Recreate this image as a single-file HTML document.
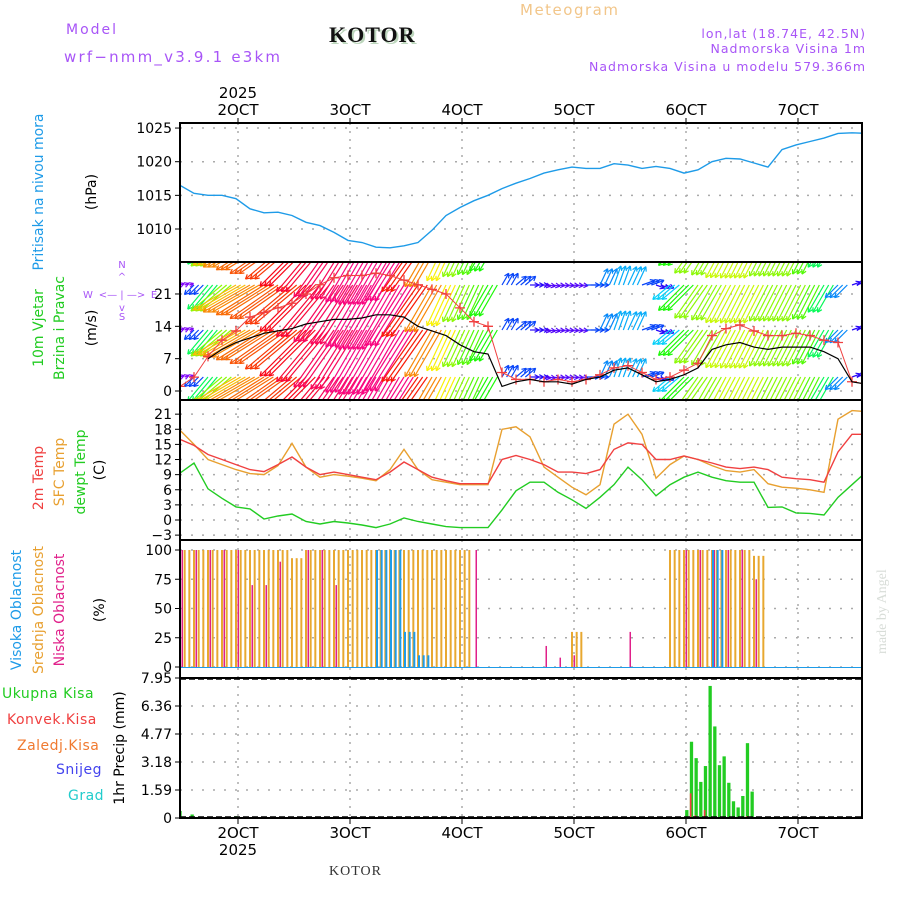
<!DOCTYPE html>
<html><head><meta charset="utf-8"><style>
html,body{margin:0;padding:0;background:#fff;}
svg{display:block;font-family:"DejaVu Sans","Liberation Sans",sans-serif;}
</style></head><body>
<svg id="chart" width="900" height="900" viewBox="0 0 900 900" xmlns="http://www.w3.org/2000/svg">
<g>
<text x="66" y="34" font-size="14" fill="#a855f7" letter-spacing="2">Model</text>
<text x="64" y="62" font-size="15" fill="#a855f7" letter-spacing="2.2">wrf−nmm_v3.9.1 e3km</text>
<text x="331" y="44" font-size="22" font-weight="bold" font-family="Liberation Serif,serif" fill="#bcd6bc" letter-spacing="1">KOTOR</text>
<text x="329" y="42" font-size="22" font-weight="bold" font-family="Liberation Serif,serif" fill="#111" letter-spacing="1">KOTOR</text>
<text x="520" y="15" font-size="15" fill="#f2c68a" letter-spacing="1.5">Meteogram</text>
<text x="866" y="38" font-size="12.5" fill="#a855f7" text-anchor="end" letter-spacing="1">lon,lat (18.74E, 42.5N)</text>
<text x="866" y="53" font-size="12.5" fill="#a855f7" text-anchor="end" letter-spacing="1">Nadmorska Visina 1m</text>
<text x="866" y="71" font-size="12.5" fill="#a855f7" text-anchor="end" letter-spacing="1">Nadmorska Visina u modelu 579.366m</text>
<text x="329" y="875" font-size="14" font-family="Liberation Serif,serif" fill="#333" letter-spacing="1">KOTOR</text>
<text transform="translate(886,654) rotate(-90)" font-size="14" font-family="Liberation Serif,serif" fill="#d8ddd8">made by Angel</text>
</g>
<g font-size="14">
<text transform="translate(43,192) rotate(-90)" text-anchor="middle" fill="#1e9be8">Pritisak na nivou mora</text>
<text transform="translate(96,192) rotate(-90)" text-anchor="middle" fill="#000">(hPa)</text>
<text transform="translate(43,328) rotate(-90)" text-anchor="middle" fill="#22cc22">10m Vjetar</text>
<text transform="translate(64,328) rotate(-90)" text-anchor="middle" fill="#22cc22">Brzina i Pravac</text>
<text transform="translate(96,328) rotate(-90)" text-anchor="middle" fill="#000">(m/s)</text>
<g fill="#a855f7" font-size="10" text-anchor="middle">
<text x="122" y="268">N</text><text x="122" y="280">^</text><text x="122" y="320">S</text><text x="122" y="311">v</text>
<text x="88" y="298">W</text><text x="122" y="298">&lt;— | —&gt;</text><text x="154" y="298">E</text>
</g>
<text transform="translate(43,478) rotate(-90)" text-anchor="middle" fill="#f04040">2m Temp</text>
<text transform="translate(64,472) rotate(-90)" text-anchor="middle" fill="#e8a030">SFC Temp</text>
<text transform="translate(85,472) rotate(-90)" text-anchor="middle" fill="#22cc22">dewpt Temp</text>
<text transform="translate(104,470) rotate(-90)" text-anchor="middle" fill="#000">(C)</text>
<text transform="translate(21,610) rotate(-90)" text-anchor="middle" fill="#1e9be8">Visoka Oblacnost</text>
<text transform="translate(43,610) rotate(-90)" text-anchor="middle" fill="#e8a030">Srednja Oblacnost</text>
<text transform="translate(64,610) rotate(-90)" text-anchor="middle" fill="#e0208a">Niska Oblacnost</text>
<text transform="translate(104,610) rotate(-90)" text-anchor="middle" fill="#000">(%)</text>
<text x="2" y="698" fill="#22cc22" letter-spacing="0.5">Ukupna Kisa</text>
<text x="7" y="724" fill="#f04040" letter-spacing="0.5">Konvek.Kisa</text>
<text x="17" y="750" fill="#f07a30" letter-spacing="0.5">Zaledj.Kisa</text>
<text x="56" y="774" fill="#4444ee" letter-spacing="0.5">Snijeg</text>
<text x="68" y="800" fill="#22cccc" letter-spacing="0.5">Grad</text>
<text transform="translate(124,748) rotate(-90)" text-anchor="middle" fill="#000">1hr Precip (mm)</text>
</g>
<g id="plot"></g>
</svg>
<script>
// ---- data (3-hourly, starting ~Oct 1 11:30) ----
const dayLabels = ["2OCT","3OCT","4OCT","5OCT","6OCT","7OCT"];
const pressure = [1016.5,1015.3,1015,1015,1014.5,1013,1012.4,1012.5,1012,1011,1010.5,1009.5,1008.3,1008,1007.3,1007.2,1007.5,1008,1009.8,1012,1013.2,1014.2,1015,1016,1016.8,1017.5,1018.3,1018.8,1019.2,1019,1019,1019.7,1019.5,1019,1019.3,1019,1018.3,1018.8,1020,1020.5,1020.4,1019.8,1019.2,1021.8,1022.5,1023,1023.5,1024.2,1024.3,1024.2];
const windSpeed = [null,null,7,9,10.5,11.5,12.5,13,13.5,14.5,15,15.5,15.5,15.8,16.5,16.5,16,14,13,12,10,8.5,8,1,2,2.5,2,2,1.5,2.5,3,4.5,5,3.5,2,2.5,3.5,5,9,10,10.5,9.5,9,9.5,9.5,9.5,8.5,7,2,1.5];
const windGust = [1,3,7.5,11,13,16,17,18,19,21,23,24.5,25,25,25.5,25,24,23,22,21,18,15,14,4,2.5,2.5,2,2.5,2,2.5,3.5,5,5.5,4,2.5,3,4.5,6,12,13.5,14.3,13,12,12,12.5,12,11,10.5,2,1.5];
const arrowSpeed = [1,3,7,9,11,12,12.5,13,13.5,14.5,15,15.5,15.5,16,16.5,16.5,16,14,12,10,9,8.5,8,3,3,2,1.5,1.5,1.5,3,4,4.5,4.5,3,2,5,8,9,9,9.5,9.5,9.5,9,9,9,8.5,7,4,2,1.5];
const windDir = [250,45,40,50,60,60,58,55,50,45,40,35,32,30,30,30,32,35,30,25,25,25,30,210,230,270,280,275,275,270,205,200,205,250,290,50,45,35,30,28,27,27,27,27,27,27,30,45,250,270];
const temp2m = [16,14.8,13,12,11,10,9.6,11,12.5,10.5,9,9.5,9,8.5,8,9.5,11.5,10,8.5,7.8,7.2,7.2,7.2,12,12.8,12,11,9.5,9.5,9.2,10,14,15.3,15,12,12,12.7,12,11.3,10.5,10.2,10.5,10,8.5,8.2,8,7.5,13.5,17,17];
const tempSfc = [17.8,15,12,11,10,9.2,9,10.8,15.2,10.5,8.5,9,8.7,8.3,7.8,10,14,10,8,7.5,7,7,7,18,18.5,16.5,10.5,8.5,6.5,5,7,19,21,17,8.3,11,12.7,12,10.8,9.8,9.5,10,7.2,6.5,6.3,6,5.5,20,21.7,21.5];
const dewpoint = [9.3,11.3,6.2,4.3,2.6,2.2,0.2,0.8,1.2,-0.3,-0.8,-0.3,-0.6,-1,-1.5,-0.8,0.4,-0.3,-0.8,-1.3,-1.5,-1.5,-1.5,2,5.8,7.5,7.5,5.5,4,2.3,4.5,7,10.5,8,4.8,7,8.5,9.5,8.5,7.8,7.5,7.5,2.5,2.6,1.4,1.3,1,4.5,7,9.5];
const cloudHigh = [0,0,0,0,0,0,0,0,0,0,0,0,0,0,100,100,30,10,0,0,0,0,0,0,0,0,0,0,0,0,0,0,0,0,0,0,0,0,100,0,0,0,0,0,0,0,0,0,0,0];
const cloudMid = [100,100,100,100,100,100,100,100,93,100,100,100,100,100,100,100,100,100,100,100,100,0,0,0,0,0,0,0,30,0,0,0,0,0,0,100,100,100,100,100,100,95,0,0,0,0,0,0,0,0];
const cloudLow = [100,100,100,100,100,70,70,90,0,100,100,70,0,0,0,0,0,0,0,0,0,100,0,0,0,0,18,8,10,0,0,0,30,0,0,0,100,100,100,100,100,75,0,0,0,0,0,0,0,0];
const precipHour = [0.4,3,12.4,109,110,111,112,113,114,115,116,117,118,119,120,121,122,123];
const precipTotal = [0.4,0.2,0.1,0.45,4.33,3.4,2.05,2.95,7.5,5.2,3.0,3.5,2.0,0.95,0.6,1.25,4.25,1.5];
const precipConv = [0.4,0,0.05,0,1.4,0.15,0,0.45,0,0,0,0,0,0.05,0,0,0.1,0];
const pTicks = [1010,1015,1020,1025];
const wTicks = [0,7,14,21];
const tTicks = [-3,0,3,6,9,12,15,18,21];
const cTicks = [0,25,50,75,100];
const rTicks = [0,1.59,3.18,4.77,6.36,7.95];

// ---- layout ----
const X0=180, X1=862, PXH=112/24;
const P={top:123,bot:262}, W={top:262,bot:400}, T={top:400,bot:540}, C={top:540,bot:678}, R={top:678,bot:818};
const xh = h => X0 + h*PXH;
const xi = i => xh(i*3);
const yP = v => 229 - (v-1010)*6.73;
const yW = v => 391 - v*4.62;
const yT = v => 520 - v*5.04;
const yC = v => 667 - v*1.17;
const yR = v => 818 - v*140/7.95;
const dayX = k => 238 + k*112;

const NS="http://www.w3.org/2000/svg";
const plot=document.getElementById('plot');
function mk(tag, attrs, parent){const e=document.createElementNS(NS,tag);for(const k in attrs)e.setAttribute(k,attrs[k]);(parent||plot).appendChild(e);return e;}

const defs=mk('defs',{});
[['cp-p',P],['cp-w',W],['cp-t',T],['cp-c',C],['cp-r',R]].forEach(([id,b])=>{const cp=mk('clipPath',{id:id},defs);mk('rect',{x:X0,y:b.top,width:X1-X0,height:b.bot-b.top},cp);});

function grid(b, ticks, yf, fmt, name){
  const g=mk('g',{});
  
  
  ticks.forEach(t=>{
    const y=yf(t);
    const l=mk('line',{x1:X0,x2:X1,y1:y,y2:y,stroke:'#aaa','stroke-width':1.5,'stroke-dasharray':'2,9'},g);
    
    
    mk('line',{x1:X0-5,x2:X0,y1:y,y2:y,stroke:'#000'},g);
    const tx=mk('text',{x:X0-8,y:y+5,'font-size':14,'text-anchor':'end',fill:'#000'},g);
    tx.textContent=fmt(t);
    
    
  });
  for(let k=0;k<6;k++){
    const vl=mk('line',{x1:dayX(k),x2:dayX(k),y1:b.top,y2:b.bot,stroke:'#aaa','stroke-width':1.5,'stroke-dasharray':'2,6'},g);
    
    
  }
}
grid(P,pTicks,yP,t=>t,'pressure');
grid(W,wTicks,yW,t=>t,'wind');
grid(T,tTicks,yT,t=>t<0?'−'+(-t):t,'temp');
grid(C,cTicks,yC,t=>t,'cloud');
grid(R,rTicks,yR,t=>t===0?'0':t.toFixed(2),'precip');

dayLabels.forEach((d,k)=>{
  const t1=mk('text',{x:dayX(k),y:115,'font-size':15,'text-anchor':'middle',fill:'#000'});
  t1.textContent=d;
  
  
  const t2=mk('text',{x:dayX(k),y:838,'font-size':15,'text-anchor':'middle',fill:'#000'});
  t2.textContent=d;
  
  
  mk('line',{x1:dayX(k),x2:dayX(k),y1:118,y2:123,stroke:'#000'});
  mk('line',{x1:dayX(k),x2:dayX(k),y1:818,y2:824,stroke:'#000'});
});
const yr1=mk('text',{x:dayX(0),y:98,'font-size':15,'text-anchor':'middle',fill:'#000'});yr1.textContent='2025';


const yr2=mk('text',{x:dayX(0),y:855,'font-size':15,'text-anchor':'middle',fill:'#000'});yr2.textContent='2025';



function pathOf(arr, yf){let d='',pen=false;arr.forEach((v,i)=>{if(v===null){pen=false;return;}d+=(pen?'L':'M')+xi(i).toFixed(1)+','+yf(v).toFixed(1);pen=true;});return d;}

const gp=mk('g',{'clip-path':'url(#cp-p)'});
const pl=mk('path',{d:pathOf(pressure,yP),fill:'none',stroke:'#1e9be8','stroke-width':1.4},gp);



function spdColor(s){
  const stops=[[1,270],[3,225],[5,190],[8,115],[10,58],[12,32],[14,5],[16,-30]];
  let h=stops[0][1];
  if(s>=stops[stops.length-1][0]) h=stops[stops.length-1][1];
  else for(let k=0;k<stops.length-1;k++){if(s>=stops[k][0]&&s<stops[k+1][0]){const f=(s-stops[k][0])/(stops[k+1][0]-stops[k][0]);h=stops[k][1]+f*(stops[k+1][1]-stops[k][1]);}}
  h=(h+360)%360;
  return 'hsl('+h.toFixed(0)+',95%,50%)';
}
const gw=mk('g',{'clip-path':'url(#cp-w)'});


const rows=[240,285,330,377];
arrowSpeed.forEach((s,i)=>{
  const d=windDir[i]*Math.PI/180, L=s*4.5;
  const dx=-Math.sin(d)*L, dy=Math.cos(d)*L, col=spdColor(s);
  for(let k=0;k<3;k++){
    const x=xh(i*3+k);
    rows.forEach(r=>{
      const a=mk('line',{x1:x,y1:r,x2:x+dx,y2:r+dy,stroke:col,'stroke-width':1.2},gw);
      
      
      const ang=Math.atan2(dy,dx);
      mk('path',{d:'M'+(x+dx)+','+(r+dy)+'l'+(-5*Math.cos(ang-0.5))+','+(-5*Math.sin(ang-0.5))+'M'+(x+dx)+','+(r+dy)+'l'+(-5*Math.cos(ang+0.5))+','+(-5*Math.sin(ang+0.5)),stroke:col,'stroke-width':1.2,fill:'none'},gw);
    });
  }
});
const gl=mk('path',{d:pathOf(windGust,yW),fill:'none',stroke:'#f04040','stroke-width':1},gw);


windGust.forEach((v,i)=>{
  const x=xi(i),y=yW(v);
  const m=mk('path',{d:'M'+(x-5)+','+y+'h10M'+x+','+(y-5)+'v10',stroke:'#f04040','stroke-width':1.3},gw);
  
  
});
const sl=mk('path',{d:pathOf(windSpeed,yW),fill:'none',stroke:'#000','stroke-width':1.2},gw);



const gt=mk('g',{'clip-path':'url(#cp-t)'});
[[dewpoint,'#22cc22','dewpoint-line'],[tempSfc,'#e8a030','sfc-temp-line'],[temp2m,'#f04040','temp-2m-line']].forEach(([arr,c,n])=>{
  const l=mk('path',{d:pathOf(arr,yT),fill:'none',stroke:c,'stroke-width':1.4},gt);
  
  
});

// clouds
const gc=mk('g',{'clip-path':'url(#cp-c)'});
mk('line',{x1:X0,x2:X1,y1:yC(0)+0.5,y2:yC(0)+0.5,stroke:'#1e9be8','stroke-width':1},gc);
[[cloudMid,'#e8a830',-1,3,2],[cloudLow,'#e0208a',1.5,1,1.5],[cloudHigh,'#1e9be8',0,3,2]].forEach(([arr,c,off,n,w])=>{
  arr.forEach((v,i)=>{
    if(!v) return;
    for(let k=0;k<n;k++){
      const x=xh(i*3+k)+off;
      const b=mk('rect',{x:x,y:yC(v),width:w,height:yC(0)-yC(v),fill:c},gc);
      
      
    }
  });
});

const gr=mk('g',{'clip-path':'url(#cp-r)'});
precipHour.forEach((h,i)=>{
  const x=xh(h)-3.5;
  const b=mk('rect',{x:x,y:yR(precipTotal[i]),width:3.3,height:yR(0)-yR(precipTotal[i]),fill:'#22cc22'},gr);
  
  
  if(precipConv[i]>0){
    const c=mk('rect',{x:x,y:yR(precipConv[i]),width:1.6,height:yR(0)-yR(precipConv[i]),fill:'#f04040'},gr);
    
    
  }
});
mk('line',{x1:X0,x2:X1,y1:R.top+1,y2:R.top+1,stroke:'#000','stroke-width':1.5,'stroke-dasharray':'6,3'});
mk('line',{x1:X0,x2:X1,y1:R.bot-1,y2:R.bot-1,stroke:'#000','stroke-width':1.5,'stroke-dasharray':'6,3'});

[P,W,T,C,R].forEach((b,k)=>{
  const f=mk('rect',{x:X0,y:b.top,width:X1-X0,height:b.bot-b.top,fill:'none',stroke:'#000','stroke-width':2});
  
  
});
</script>
</body></html>
